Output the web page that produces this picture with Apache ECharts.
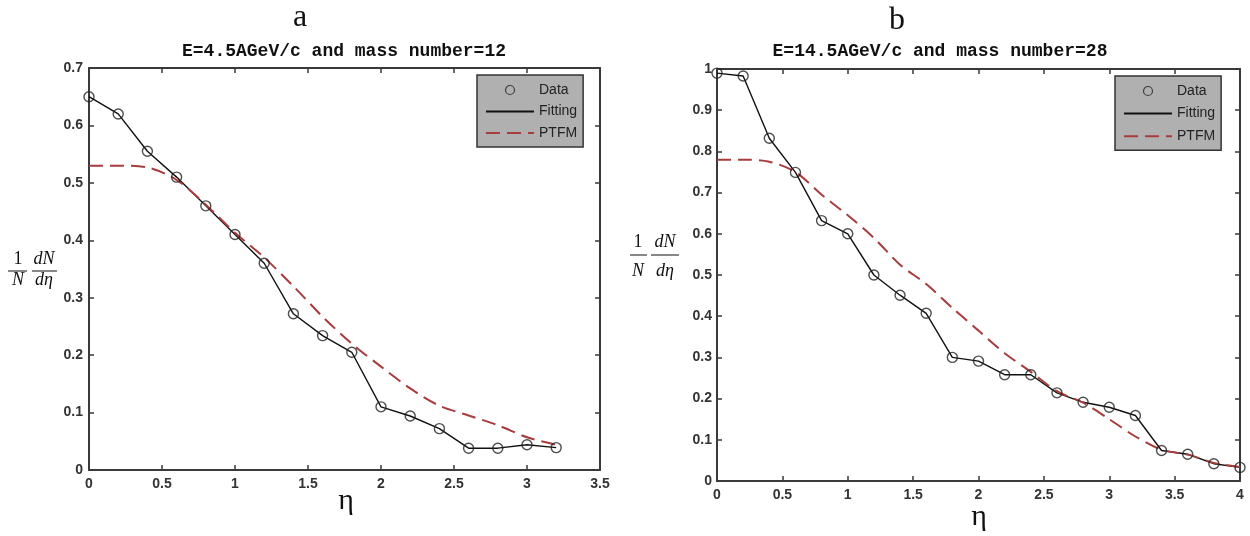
<!DOCTYPE html>
<html>
<head>
<meta charset="utf-8">
<script src="https://cdn.jsdelivr.net/npm/echarts@6/dist/echarts.min.js"></script>
<style>
html,body{margin:0;padding:0;background:#fff;}
#chart{width:1250px;height:536px;}
</style>
</head>
<body>
<div id="chart"></div>
<script>
// ---- Data ----
const etaA = [0, 0.2, 0.4, 0.6, 0.8, 1.0, 1.2, 1.4, 1.6, 1.8, 2.0, 2.2, 2.4, 2.6, 2.8, 3.0, 3.2];
const dataA = [0.65, 0.62, 0.555, 0.51, 0.46, 0.41, 0.36, 0.272, 0.234, 0.205, 0.11, 0.094, 0.072, 0.038, 0.038, 0.044, 0.039];
const ptfmA = [0.53, 0.53, 0.527, 0.505, 0.462, 0.413, 0.37, 0.32, 0.267, 0.22, 0.18, 0.142, 0.112, 0.095, 0.078, 0.057, 0.044];

const etaB = [0, 0.2, 0.4, 0.6, 0.8, 1.0, 1.2, 1.4, 1.6, 1.8, 2.0, 2.2, 2.4, 2.6, 2.8, 3.0, 3.2, 3.4, 3.6, 3.8, 4.0];
const dataB = [0.99, 0.983, 0.832, 0.749, 0.632, 0.6, 0.5, 0.451, 0.407, 0.3, 0.291, 0.258, 0.258, 0.214, 0.191, 0.179, 0.159, 0.074, 0.065, 0.042, 0.033];
const ptfmB = [0.78, 0.78, 0.775, 0.75, 0.695, 0.645, 0.59, 0.525, 0.478, 0.42, 0.365, 0.31, 0.265, 0.218, 0.19, 0.15, 0.108, 0.076, 0.064, 0.044, 0.034];

const panelLetters = ['a', 'b'];
const panelTitles = ['E=4.5AGeV/c and mass number=12', 'E=14.5AGeV/c and mass number=28'];
const legendNames = ['Data', 'Fitting', 'PTFM'];
const xLabel = 'η';

// ---- Build ----
const zip = (xs, ys) => xs.map((x, i) => [x, ys[i]]);
const AXIS_COLOR = '#3a3a3a';
const LABEL = {color: '#333', fontWeight: 'bold', fontSize: 14, fontFamily: 'Liberation Sans, Arial, sans-serif'};
const RED = '#a83c3c';
const NOFILL = 'rgba(0,0,0,0)';

function xAxes(gi, max) {
  return [
    {type: 'value', gridIndex: gi, position: 'bottom', min: 0, max: max, interval: 0.5,
     axisLine: {show: true, onZero: false, lineStyle: {color: AXIS_COLOR, width: 2}},
     axisTick: {show: true, inside: true, length: 5, lineStyle: {color: AXIS_COLOR, width: 1.5}},
     axisLabel: Object.assign({margin: 7}, LABEL), splitLine: {show: false}},
    {type: 'value', gridIndex: gi, position: 'top', min: 0, max: max, interval: 0.5,
     axisLine: {show: true, onZero: false, lineStyle: {color: AXIS_COLOR, width: 2}},
     axisTick: {show: true, inside: true, length: 5, lineStyle: {color: AXIS_COLOR, width: 1.5}},
     axisLabel: {show: false}, splitLine: {show: false}}
  ];
}
function yAxes(gi, max, margin) {
  return [
    {type: 'value', gridIndex: gi, position: 'left', min: 0, max: max, interval: 0.1,
     axisLine: {show: true, onZero: false, lineStyle: {color: AXIS_COLOR, width: 2}},
     axisTick: {show: true, inside: true, length: 5, lineStyle: {color: AXIS_COLOR, width: 1.5}},
     axisLabel: Object.assign({margin: margin, formatter: v => String(Math.round(v * 10) / 10)}, LABEL),
     splitLine: {show: false}},
    {type: 'value', gridIndex: gi, position: 'right', min: 0, max: max, interval: 0.1,
     axisLine: {show: true, onZero: false, lineStyle: {color: AXIS_COLOR, width: 2}},
     axisTick: {show: true, inside: true, length: 5, lineStyle: {color: AXIS_COLOR, width: 1.5}},
     axisLabel: {show: false}, splitLine: {show: false}}
  ];
}
function seriesFor(axisIdx, eta, data, ptfm) {
  return [
    {name: 'Fitting', type: 'line', xAxisIndex: axisIdx, yAxisIndex: axisIdx, data: zip(eta, data),
     symbol: 'none', itemStyle: {color: NOFILL, borderWidth: 0},
     lineStyle: {color: '#111', width: 1.4}, z: 2, silent: true},
    {name: 'PTFM', type: 'line', xAxisIndex: axisIdx, yAxisIndex: axisIdx, data: zip(eta, ptfm),
     symbol: 'none', smooth: 0.3, itemStyle: {color: NOFILL, borderWidth: 0},
     lineStyle: {color: RED, width: 2, type: [14, 7]}, z: 3, silent: true},
    {name: 'Data', type: 'scatter', xAxisIndex: axisIdx, yAxisIndex: axisIdx, data: zip(eta, data),
     symbol: 'circle', symbolSize: 10,
     itemStyle: {color: NOFILL, borderColor: '#222', borderWidth: 1.4}, z: 4, silent: true}
  ];
}
function legendFor(left, top, gap) {
  return {
    orient: 'vertical', left: left, top: top, itemWidth: 48, itemHeight: 9, itemGap: gap,
    padding: [8, 6, 7, 8], backgroundColor: '#b0b0b0', borderColor: '#333', borderWidth: 1.5, borderRadius: 0,
    textStyle: {color: '#222', fontSize: 14, fontFamily: 'Liberation Sans, Arial, sans-serif'},
    selectedMode: false,
    data: [
      {name: legendNames[0], icon: 'circle', itemStyle: {color: NOFILL, borderColor: '#222', borderWidth: 1.2}},
      {name: legendNames[1], itemStyle: {color: NOFILL, borderWidth: 0, opacity: 0}},
      {name: legendNames[2], itemStyle: {color: NOFILL, borderWidth: 0, opacity: 0}}
    ]
  };
}
function fraction(cx1, cx2, yTop, yLine, yBot, l1, l2) {
  const f = 'Liberation Serif, Times New Roman, serif';
  const t = (x, y, s, it) => ({type: 'text', x: x, y: y, style: {text: s, font: (it ? 'italic ' : '') + '18px ' + f, fill: '#111', textAlign: 'center', textVerticalAlign: 'middle'}});
  return [
    t(cx1, yTop, '1', false), t(cx1, yBot, 'N', true),
    t(cx2, yTop, 'dN', true), t(cx2, yBot, 'dη', true),
    {type: 'line', shape: {x1: l1[0], y1: yLine, x2: l1[1], y2: yLine}, style: {stroke: '#111', lineWidth: 1}},
    {type: 'line', shape: {x1: l2[0], y1: yLine, x2: l2[1], y2: yLine}, style: {stroke: '#111', lineWidth: 1}}
  ];
}
const serif = 'Liberation Serif, Times New Roman, serif';
const mono = 'bold 18px Liberation Mono, Courier New, monospace';
const txt = (x, y, s, font) => ({type: 'text', x: x, y: y, style: {text: s, font: font, fill: '#111', textAlign: 'center', textVerticalAlign: 'middle'}});

const series = seriesFor(0, etaA, dataA, ptfmA).concat(seriesFor(2, etaB, dataB, ptfmB));

const option = {
  animation: false,
  backgroundColor: '#fff',
  grid: [
    {left: 89, top: 68, width: 511, height: 402},
    {left: 717, top: 69, width: 523, height: 412}
  ],
  xAxis: xAxes(0, 3.5).concat(xAxes(1, 4)),
  yAxis: yAxes(0, 0.7, 6).concat(yAxes(1, 1, 5)),
  legend: [legendFor(477, 75, 7.5), legendFor(1115, 76, 8.6)],
  series: series,
  graphic: [
    txt(300, 18, panelLetters[0], '32px ' + serif),
    txt(897, 21, panelLetters[1], '32px ' + serif),
    txt(344, 51, panelTitles[0], mono),
    txt(940, 51, panelTitles[1], mono),
    txt(346, 501, xLabel, '30px ' + serif),
    txt(979, 517, xLabel, '30px ' + serif)
  ].concat(fraction(18, 44, 259, 271, 280, [8, 27], [32, 57]))
   .concat(fraction(638, 665, 242, 255, 271, [630, 647], [651, 679]))
};
const chart = echarts.init(document.getElementById('chart'), null, {renderer: 'canvas'});
chart.setOption(option);
</script>
</body>
</html>
